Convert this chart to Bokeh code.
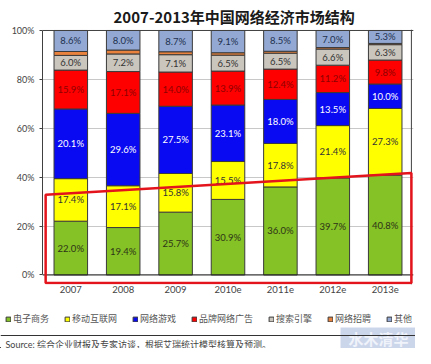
from bokeh.plotting import figure
from bokeh.layouts import column
from bokeh.models import (ColumnDataSource, FactorRange, Range1d, FixedTicker, PrintfTickFormatter,
                          Label, Legend, LegendItem, PolyAnnotation, BoxAnnotation, Span)
from bokeh.core.properties import value
from bokeh.embed import file_html
from bokeh.resources import INLINE

# ---- data ----
years = ["2007", "2008", "2009", "2010e", "2011e", "2012e", "2013e"]
ecommerce = [22.0, 19.4, 25.7, 30.9, 36.0, 39.7, 40.8]
mobile = [17.4, 17.1, 15.8, 15.5, 17.8, 21.4, 27.3]
games = [28.5, 29.6, 27.5, 23.1, 18.0, 13.5, 10.0]
games_labels = ["20.1%", "29.6%", "27.5%", "23.1%", "18.0%", "13.5%", "10.0%"]
brand_ads = [15.9, 17.1, 14.0, 13.9, 12.4, 11.2, 9.8]
search = [6.0, 7.2, 7.1, 6.5, 6.5, 6.6, 6.3]
recruit = [1.6, 1.6, 1.2, 1.0, 0.8, 0.6, 0.5]
others = [8.6, 8.0, 8.7, 9.1, 8.5, 7.0, 5.3]
series_names = ["电子商务", "移动互联网", "网络游戏", "品牌网络广告", "搜索引擎", "网络招聘", "其他"]
y_ticks = [0, 20, 40, 60, 80, 100]
title_text = "2007-2013年中国网络经济市场结构"
source_text = "Source: 综合企业财报及专家访谈，根据艾瑞统计模型核算及预测。"
watermark_text = "水木清华"

series = [ecommerce, mobile, games, brand_ads, search, recruit, others]
colors = ["#84C225", "#FFFF00", "#0A0AF2", "#FF0000", "#CAC5BD", "#E8823C", "#93A9D3"]
text_colors = ["#2E3318", "#333333", "#FFFFFF", "#8E0000", "#333333", None, "#22304F"]

keys = ["s%d" % i for i in range(len(series))]
data = {"year": years}
for k, s in zip(keys, series):
    data[k] = s
src = ColumnDataSource(data)

LATIN = "Lato, Noto Sans CJK SC"
CJK = "Noto Sans CJK SC"
EDGE = "#3A3A3A"

p = figure(x_range=FactorRange(*years, range_padding=0.04, range_padding_units="absolute"),
           y_range=Range1d(-3.9, 100.4),
           width=415, height=300, output_backend="svg", toolbar_location=None,
           min_border_left=42, min_border_right=2, min_border_top=28, min_border_bottom=16,
           background_fill_color="white", border_fill_color="white",
           outline_line_color=None)
p.frame_align = False

p.title.text = title_text
p.title.align = "left"
p.title.offset = 71
p.title.standoff = 6
p.title.text_font = CJK
p.title.text_font_size = "15px"
p.title.text_font_style = "bold"
p.title.text_color = "#1A1A1A"

rs = p.vbar_stack(keys, x="year", width=0.64, source=src, color=colors,
                  line_color=EDGE, line_width=1)

# segment labels
lx, ly, lt, lc = [], [], [], []
for j, year in enumerate(years):
    base = 0.0
    for i, s in enumerate(series):
        v = s[j]
        if text_colors[i] is not None:
            lx.append(year)
            ly.append(base + v / 2.0)
            lt.append(games_labels[j] if i == 2 else "%.1f%%" % v)
            lc.append(text_colors[i])
        base += v
lsrc = ColumnDataSource(dict(x=lx, y=ly, t=lt, c=lc))
p.text(x="x", y="y", text="t", source=lsrc, text_color="c", text_align="center",
       text_baseline="middle", text_font=value(LATIN), text_font_size="9.5px")

# axes / grid
p.xgrid.grid_line_color = None
p.ygrid.grid_line_color = "#C8C8C8"
p.yaxis.ticker = FixedTicker(ticks=y_ticks)
p.yaxis.formatter = PrintfTickFormatter(format="%d%%")
p.yaxis.bounds = (0, 100)
p.yaxis.minor_tick_line_color = None
p.yaxis.major_tick_in = 0
p.yaxis.major_tick_out = 3
p.yaxis.major_tick_line_color = "#404040"
p.yaxis.axis_line_color = "#404040"
p.yaxis.major_label_standoff = 5
p.yaxis.major_label_text_font = LATIN
p.yaxis.major_label_text_font_size = "9px"
p.yaxis.major_label_text_color = "#444444"

p.xaxis.major_tick_line_color = None
p.xaxis.minor_tick_line_color = None
p.xaxis.axis_line_color = None
p.xaxis.major_tick_out = 0
p.xaxis.major_label_standoff = 1
p.xaxis.major_label_text_font = LATIN
p.xaxis.major_label_text_font_size = "9.5px"
p.xaxis.major_label_text_color = "#444444"

# plot-area border (top, bottom at 0%, right)
p.add_layout(Span(location=100, dimension="width", line_color="#404040", line_width=1))
p.add_layout(Span(location=0, dimension="width", line_color="#202020", line_width=1))
p.add_layout(Span(location=7, dimension="height", line_color="#404040", line_width=1))

# red highlight box
p.add_layout(PolyAnnotation(xs=[0.02, 7.0, 7.0, 0.02], ys=[32.8, 41.7, -3.3, -3.3],
                            fill_alpha=0, line_color="#E3141B", line_alpha=1, line_width=2.5))

# ---- bottom strip: legend, rule, source, watermark ----
q = figure(x_range=Range1d(0, 415), y_range=Range1d(0, 48), width=415, height=48,
           output_backend="svg", toolbar_location=None, min_border=0,
           x_axis_location=None, y_axis_location=None,
           background_fill_color="white", border_fill_color="white", outline_line_color=None)
q.frame_align = False
q.grid.visible = False

dummies = [q.vbar(x=[-100], top=[1], width=1, fill_color=c, line_color=EDGE, line_width=1)
           for c in colors]
items = [LegendItem(label=n, renderers=[r]) for n, r in zip(series_names, dummies)]
legend = Legend(items=items, orientation="horizontal", location=(5, 23),
                glyph_width=6, glyph_height=6, label_standoff=2, spacing=15,
                padding=0, margin=0, border_line_alpha=0, background_fill_alpha=0,
                label_text_font=CJK, label_text_font_size="9px", label_height=10,
                label_width=10, label_text_color="#555555")
q.add_layout(legend, "center")

q.add_layout(BoxAnnotation(left=340, right=415, bottom=0, top=21,
                           fill_color="#C3CFE8", fill_alpha=0.85, line_color=None))
q.add_layout(Label(x=378, y=10, text=watermark_text, text_align="center",
                   text_baseline="middle", text_font=CJK, text_font_size="15px",
                   text_font_style="bold", text_color="#F0F3FA"))
q.add_layout(Span(location=13, dimension="width", line_color="#333333", line_width=1))
q.add_layout(Label(x=5, y=4.5, text=source_text, text_align="left", text_baseline="middle",
                   text_font=LATIN, text_font_size="9px", text_color="#444444"))

layout = column(p, q, spacing=0)
open("out.html", "w").write(file_html(layout, INLINE))
